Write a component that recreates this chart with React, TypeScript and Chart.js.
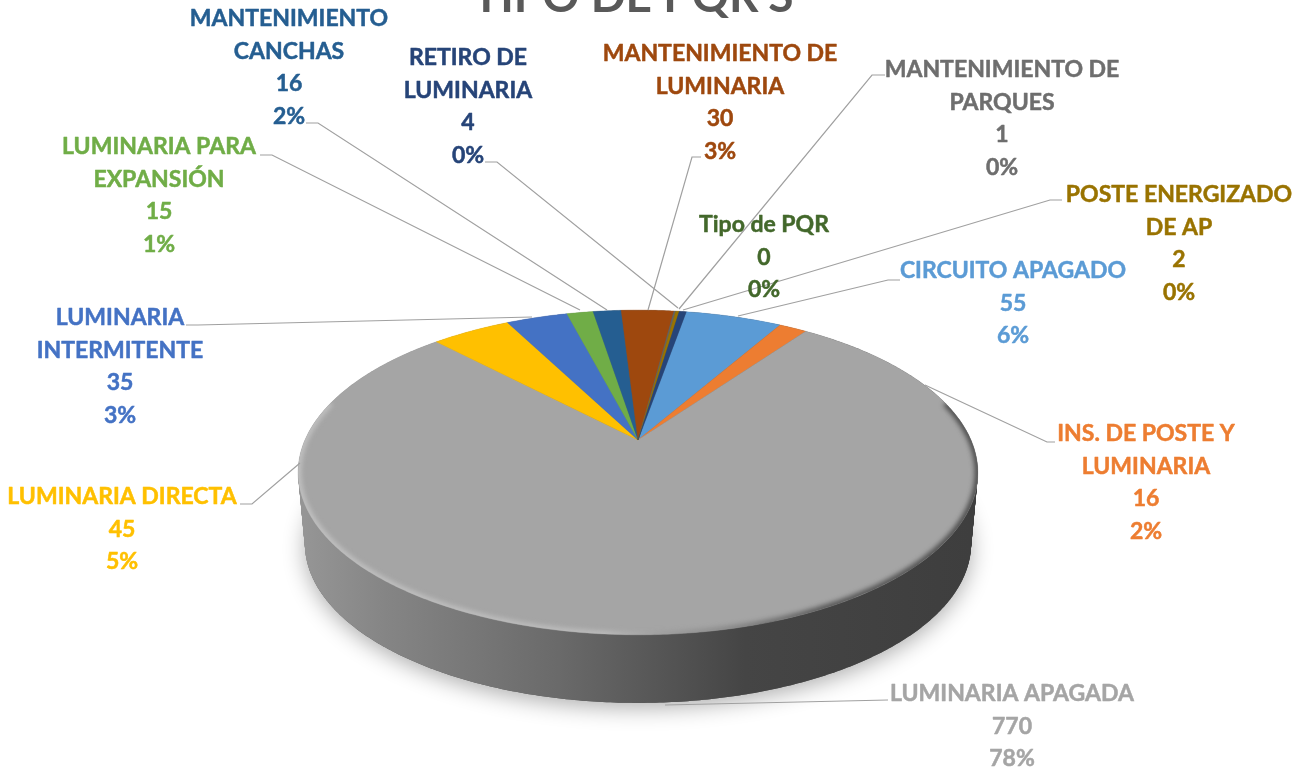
import React, { useEffect, useRef } from "react";
import { Chart, registerables } from "chart.js";

Chart.register(...registerables);

const categories = [
  "CIRCUITO APAGADO", "INS. DE POSTE Y LUMINARIA", "LUMINARIA APAGADA", "LUMINARIA DIRECTA",
  "LUMINARIA INTERMITENTE", "LUMINARIA PARA EXPANSIÓN", "MANTENIMIENTO CANCHAS",
  "MANTENIMIENTO DE LUMINARIA", "MANTENIMIENTO DE PARQUES", "POSTE ENERGIZADO DE AP",
  "Tipo de PQR", "RETIRO DE LUMINARIA",
];
const values = [55, 16, 770, 45, 35, 15, 16, 30, 1, 2, 0, 4];
const percents = ["6%", "2%", "78%", "5%", "3%", "1%", "2%", "3%", "0%", "0%", "0%", "0%"];
const colors = ["#5B9BD5", "#ED7D31", "#A5A5A5", "#FFC000", "#4472C4", "#70AD47", "#255E91", "#9E480E", "#636363", "#997300", "#43682B", "#264478"];
const labelColors = ["#5B9BD5", "#ED7D31", "#A5A5A5", "#FFC000", "#4472C4", "#70AD47", "#255E91", "#9E480E", "#6E6E6E", "#997300", "#43682B", "#264478"];
const titleText = "TIPO DE PQR'S";

// Wrapped name lines of every data label
const nameLines = [
  ["CIRCUITO APAGADO"], ["INS. DE POSTE Y", "LUMINARIA"], ["LUMINARIA APAGADA"], ["LUMINARIA DIRECTA"],
  ["LUMINARIA", "INTERMITENTE"], ["LUMINARIA PARA", "EXPANSIÓN"], ["MANTENIMIENTO", "CANCHAS"],
  ["MANTENIMIENTO DE", "LUMINARIA"], ["MANTENIMIENTO DE", "PARQUES"], ["POSTE ENERGIZADO", "DE AP"],
  ["Tipo de PQR"], ["RETIRO DE", "LUMINARIA"],
];
// Label layout: centre x, centre y of first line
const labelX = [1013, 1146, 1012, 122, 120, 159, 289, 720, 1002, 1179, 764, 468];
const labelY = [271, 434, 694, 497, 318, 147, 19, 54, 70, 195, 225, 58];
// Leader polylines (label end, elbow, pie end)
const leaders: number[][][] = [
  [[900, 280], [888, 280], [738, 316]],
  [[1055, 442], [1047, 442], [925, 385]],
  [[888, 700], [665, 705]],
  [[240, 504], [252, 504], [300, 463]],
  [[186, 325], [198, 325], [532, 317]],
  [[260, 155], [272, 155], [580, 310]],
  [[306, 123], [318, 123], [607, 310]],
  [[701, 157], [692, 157], [648, 310]],
  [[885, 75], [872, 75], [679, 309]],
  [[1062, 200], [1050, 200], [683, 310]],
  [],
  [[485, 162], [497, 162], [678, 308]],
];

const K = 0.2; // perspective strength
const SQUASH = 0.468; // vertical foreshortening
const DEPTH = 72;
const FAR_SCALE = 0.98;

const projector = (x: number, y: number, r: number, s = 1, dy = 0) => (a: number) => {
  const u = Math.cos(a), v = Math.sin(a);
  const d = 1 - K * v;
  return [x + (s * r * u) / d, y + (s * SQUASH * r * v) / d + dy];
};

const tracePath = (ctx: CanvasRenderingContext2D, p: (a: number) => number[], a0: number, a1: number, move = true) => {
  const n = Math.max(2, Math.ceil(Math.abs(a1 - a0) / 0.01));
  for (let i = 0; i <= n; i++) {
    const [px, py] = p(a0 + ((a1 - a0) * i) / n);
    if (i === 0 && move) ctx.moveTo(px, py);
    else ctx.lineTo(px, py);
  }
};

const pie3d = {
  id: "pie3d",
  beforeDatasetsDraw(chart: any) {
    const ctx: CanvasRenderingContext2D = chart.ctx;
    const arcs = chart.getDatasetMeta(0).data;
    const { x, y, outerRadius: r } = arcs[0];
    const top = projector(x, y, r);
    const bottom = projector(x, y, r, FAR_SCALE, DEPTH);

    // soft floor shadow
    ctx.save();
    ctx.shadowColor = "rgba(0,0,0,0.32)";
    ctx.shadowBlur = 22;
    ctx.shadowOffsetY = 5;
    ctx.fillStyle = "#555";
    ctx.beginPath();
    tracePath(ctx, bottom, 0, Math.PI * 2);
    ctx.closePath();
    ctx.fill();
    ctx.restore();

    // side wall
    const side = ctx.createLinearGradient(x - r, 0, x + r, 0);
    side.addColorStop(0, "#959595");
    side.addColorStop(0.12, "#858585");
    side.addColorStop(0.38, "#6a6a6a");
    side.addColorStop(0.66, "#454545");
    side.addColorStop(1, "#3e3e3e");
    ctx.fillStyle = side;
    for (let i = DEPTH; i >= 0; i--) {
      const t = i / DEPTH;
      const layer = projector(x, y, r, 1 + (FAR_SCALE - 1) * t, i);
      ctx.beginPath();
      tracePath(ctx, layer, 0, Math.PI * 2);
      ctx.closePath();
      ctx.fill();
    }

    // top face slices
    arcs.forEach((arc: any, i: number) => {
      if (arc.endAngle - arc.startAngle <= 0) return;
      ctx.beginPath();
      ctx.moveTo(arc.x, arc.y);
      tracePath(ctx, top, arc.startAngle, arc.endAngle, false);
      ctx.closePath();
      ctx.fillStyle = colors[i];
      ctx.fill();
      ctx.strokeStyle = colors[i];
      ctx.lineWidth = 0.4;
      ctx.stroke();
    });

    // bevel on the front rim
    ctx.save();
    ctx.beginPath();
    tracePath(ctx, top, 0, Math.PI * 2);
    ctx.closePath();
    ctx.clip();
    const rim = ctx.createLinearGradient(x - r, 0, x + r, 0);
    rim.addColorStop(0, "rgba(200,200,200,0.85)");
    rim.addColorStop(0.45, "rgba(195,195,195,0.8)");
    rim.addColorStop(0.6, "rgba(125,125,125,0.55)");
    rim.addColorStop(0.78, "rgba(70,70,70,0.9)");
    rim.addColorStop(1, "rgba(60,60,60,0.9)");
    ctx.filter = "blur(2.5px)";
    ctx.strokeStyle = rim;
    ctx.lineWidth = 6;
    ctx.beginPath();
    tracePath(ctx, top, -0.25, Math.PI + 0.25);
    ctx.stroke();
    ctx.restore();

    return false;
  },
  afterDraw(chart: any) {
    const ctx: CanvasRenderingContext2D = chart.ctx;
    ctx.save();
    ctx.strokeStyle = "#A0A0A0";
    ctx.lineWidth = 1.2;
    leaders.forEach((pts) => {
      if (!pts.length) return;
      ctx.beginPath();
      pts.forEach(([px, py], j) => (j ? ctx.lineTo(px, py) : ctx.moveTo(px, py)));
      ctx.stroke();
    });
    ctx.textAlign = "center";
    ctx.textBaseline = "middle";
    ctx.font = "bold 23px Lato";
    ctx.lineWidth = 0.5;
    ctx.lineJoin = "round";
    categories.forEach((_, i) => {
      const lines = [...nameLines[i], String(values[i]), percents[i]];
      ctx.fillStyle = labelColors[i];
      ctx.strokeStyle = labelColors[i];
      lines.forEach((line, j) => {
        ctx.fillText(line, labelX[i], labelY[i] + j * 32.4);
        ctx.strokeText(line, labelX[i], labelY[i] + j * 32.4);
      });
    });
    ctx.fillStyle = "#595959";
    ctx.font = "bold 46px Lato";
    ctx.textBaseline = "alphabetic";
    ctx.fillText(titleText, 633, 12);
    ctx.restore();
  },
};

export default function App() {
  const ref = useRef<HTMLCanvasElement>(null);
  useEffect(() => {
    const chart = new Chart(ref.current!, {
      type: "pie",
      data: {
        labels: categories,
        datasets: [{ data: values, backgroundColor: colors, borderWidth: 0, radius: 333 } as any],
      },
      options: {
        animation: false,
        responsive: false,
        rotation: 10,
        layout: { padding: { top: 108, right: 26, left: 0, bottom: 0 } },
        plugins: { legend: { display: false }, tooltip: { enabled: false }, title: { display: false } },
      },
      plugins: [pie3d as any],
    });
    return () => chart.destroy();
  }, []);
  return (
    <div style={{ position: "absolute", left: 0, top: 0, width: 1302, height: 772, overflow: "hidden", background: "#fff" }}>
      <canvas ref={ref} width={1302} height={772} style={{ display: "block" }} />
    </div>
  );
}
